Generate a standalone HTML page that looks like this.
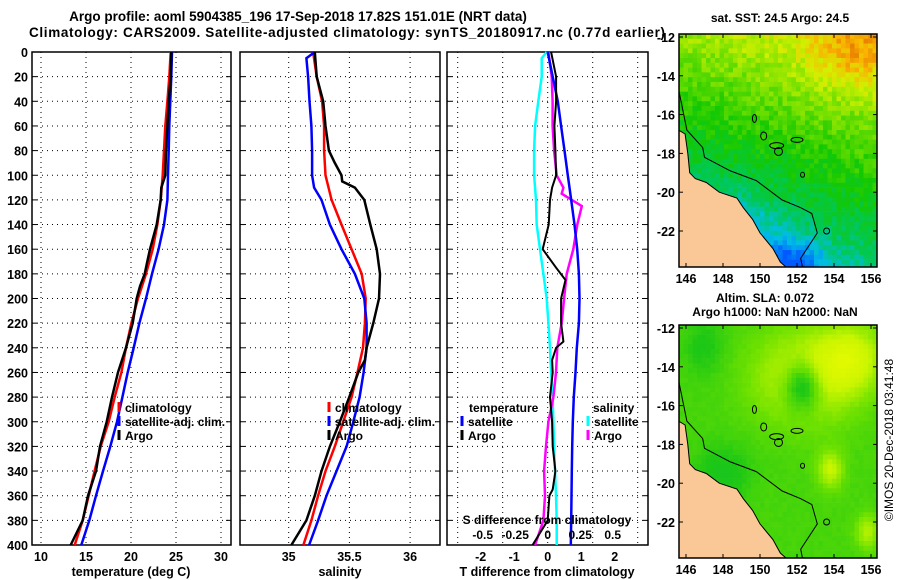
<!DOCTYPE html>
<html><head><meta charset="utf-8"><style>
html,body{margin:0;padding:0;background:#fff;}
svg{display:block;font-family:"Liberation Sans",Arial,sans-serif;font-weight:bold;}
</style></head><body>
<svg id="s" width="900" height="580" viewBox="0 0 900 580" xmlns="http://www.w3.org/2000/svg">
<text x="298" y="21" font-size="13.5" text-anchor="middle">Argo profile: aoml 5904385_196 17-Sep-2018 17.82S 151.01E (NRT data)</text>
<text x="347" y="37" font-size="13.5" text-anchor="middle" textLength="636">Climatology: CARS2009. Satellite-adjusted climatology: synTS_20180917.nc (0.77d earlier)</text>
<text x="780" y="22" font-size="12" text-anchor="middle">sat. SST: 24.5 Argo: 24.5</text>
<text x="765" y="302" font-size="12" text-anchor="middle">Altim. SLA: 0.072</text>
<text x="775" y="316" font-size="12" text-anchor="middle">Argo h1000: NaN h2000: NaN</text>
<text transform="translate(893,440) rotate(-90)" font-size="12" font-weight="normal" text-anchor="middle">©IMOS 20-Dec-2018 03:41:48</text>
</svg>
<script>
// ---- Data ----
const depthTicks=[0,20,40,60,80,100,120,140,160,180,200,220,240,260,280,300,320,340,360,380,400];
const D1=[0,20,40,60,80,100,120,140,160,180,200,220,240,260,280,300,320,340,360,380,400];
const tempSat=[24.56,24.48,24.37,24.26,24.19,24.11,24.04,23.67,23.07,22.33,21.67,20.93,20.30,19.63,19.04,18.44,17.70,16.89,16.11,15.37,14.48];
const tempClim=[24.41,24.26,24.04,23.81,23.67,23.52,23.30,22.93,22.41,21.67,20.78,20.04,19.44,18.93,18.19,17.52,16.63,15.96,15.30,14.63,13.74];
const tempArgoDepth=[0,20,40,60,80,100,110,120,140,160,170,180,190,200,220,240,260,280,300,320,340,360,380,400];
const tempArgo=[24.48,24.41,24.19,24.04,23.89,23.81,23.37,23.30,22.85,22.11,21.81,21.52,21.00,20.63,20.19,19.44,18.56,17.89,17.30,16.56,16.11,15.22,14.63,13.30];
const salSatDepth=[0,5,20,40,60,80,100,110,120,140,160,180,200,220,240,260,280,300,320,340,360,380,400];
const salSat=[35.215,35.146,35.160,35.171,35.187,35.193,35.193,35.209,35.270,35.339,35.435,35.545,35.623,35.642,35.642,35.617,35.584,35.532,35.477,35.394,35.311,35.242,35.168];
const salClim=[35.201,35.231,35.275,35.292,35.292,35.303,35.353,35.435,35.518,35.601,35.634,35.628,35.612,35.567,35.518,35.449,35.380,35.303,35.242,35.187,35.121];
const salArgoDepth=[0,20,40,60,80,90,100,105,110,120,140,160,180,200,220,240,250,260,280,300,320,340,360,380,400];
const salArgo=[35.215,35.231,35.284,35.303,35.331,35.380,35.435,35.441,35.545,35.623,35.672,35.725,35.752,35.744,35.697,35.642,35.628,35.573,35.499,35.421,35.339,35.270,35.215,35.146,35.022];
const dTSat=[0,0.15,0.30,0.40,0.50,0.60,0.70,0.80,0.88,0.93,0.95,0.93,0.87,0.83,0.78,0.75,0.73,0.72,0.71,0.70,0.69];
const dTArgoDepth=[0,20,40,60,80,100,110,120,140,160,175,185,200,220,235,240,250,260,280,300,320,340,355,360,380,400];
const dTArgo=[0.10,0.25,0.25,0.20,0.23,0.25,0.13,0.07,0.03,-0.15,0.25,0.53,0.40,0.40,0.47,0.25,0.13,0.15,0.07,0.13,0.15,0.23,0.15,0.05,0,-0.45];
const dSSatDepth=[0,5,20,40,60,80,100,120,140,160,180,200,220,240,260,280,300,320,340,360,380,400];
const dSSat=[-0.008,-0.046,-0.046,-0.072,-0.097,-0.105,-0.105,-0.090,-0.085,-0.059,-0.033,-0.008,0.005,0.018,0.026,0.038,0.044,0.049,0.056,0.064,0.069,0.069];
const dSArgoDepth=[0,20,40,60,80,100,110,115,120,125,140,160,180,200,220,240,260,280,300,320,340,360,380,400];
const dSArgo=[0.005,0.031,0.038,0.038,0.049,0.069,0.121,0.108,0.185,0.262,0.228,0.197,0.146,0.126,0.108,0.074,0.064,0.044,0.005,-0.013,-0.028,-0.021,-0.033,-0.097];
const tempTicks=[10,15,20,25,30];
const salTicks=[35,35.5,36];
const dTTicks=[-2,-1,0,1,2];
const dSTicks=[-0.5,-0.25,0,0.25,0.5];
const lonTicks=[146,148,150,152,154,156];
const latTicks=[-12,-14,-16,-18,-20,-22];

const NS="http://www.w3.org/2000/svg";
const svg=document.getElementById('s');
function mk(tag,attrs,parent){const e=document.createElementNS(NS,tag);for(const k in attrs)e.setAttribute(k,attrs[k]);(parent||svg).appendChild(e);return e;}
function txt(x,y,s,size,anchor,parent){const t=mk('text',{x:x,y:y,'font-size':size,'text-anchor':anchor||'middle'},parent);t.textContent=s;return t;}

const TOP=52,BOT=545;
const yD=d=>TOP+d*(BOT-TOP)/400;
const xT=v=>41+(v-10)*9;
const xS=v=>288.7+(v-35)*121.4;
const xdT=v=>547.7+v*33.5;
const xdS=v=>547.7+v*130;

function panel(name,x0,x1,gridXs){
  const g=mk('g',{});
  
  
  gridXs.forEach(x=>{const l=mk('line',{x1:x,x2:x,y1:TOP,y2:BOT,stroke:'#000','stroke-width':1,'stroke-dasharray':'1,4'},g);
    
    });
  depthTicks.forEach(d=>{if(d===0||d===400)return;const l=mk('line',{x1:x0,x2:x1,y1:yD(d),y2:yD(d),stroke:'#000','stroke-width':1,'stroke-dasharray':'1,4'},g);
    
    
    mk('line',{x1:x0,x2:x0+5,y1:yD(d),y2:yD(d),stroke:'#000'},g);mk('line',{x1:x1,x2:x1-5,y1:yD(d),y2:yD(d),stroke:'#000'},g);});
  const r=mk('rect',{x:x0,y:TOP,width:x1-x0,height:BOT-TOP,fill:'none',stroke:'#000','stroke-width':1.5},g);
  
  
  return g;
}
function line(g,name,xs,ds,fx,color,w){
  const pts=xs.map((v,i)=>fx(v).toFixed(1)+','+yD(ds[i]).toFixed(1)).join(' ');
  const p=mk('polyline',{points:pts,fill:'none',stroke:color,'stroke-width':w||2.5,'stroke-linejoin':'miter'},g);
  
  
}
function legend(g,x,y,color,label){
  mk('line',{x1:x,x2:x,y1:y-10,y2:y,stroke:color,'stroke-width':3},g);
  const t=txt(x+6,y,label,12,'start',g);
  
  
}

depthTicks.forEach(d=>{const t=txt(28,yD(d)+5,String(d),12.5,'end');
  
  });

const g1=panel('temperature-panel',32,231,tempTicks.map(xT));
line(g1,'temp-clim-line',tempClim,D1,xT,'#f00');
line(g1,'temp-sat-line',tempSat,D1,xT,'#00f');
line(g1,'temp-argo-line',tempArgo,tempArgoDepth,xT,'#000');
legend(g1,119,412,'#f00','climatology');
legend(g1,119,426,'#00f','satellite-adj. clim.');
legend(g1,119,440,'#000','Argo');
tempTicks.forEach(v=>{const t=txt(xT(v),561,String(v),12.5);});
{const t=txt(131,576,'temperature (deg C)',12.5);}

const g2=panel('salinity-panel',240,440,salTicks.map(xS));
line(g2,'sal-clim-line',salClim,D1,xS,'#f00');
line(g2,'sal-sat-line',salSat,salSatDepth,xS,'#00f');
line(g2,'sal-argo-line',salArgo,salArgoDepth,xS,'#000');
legend(g2,329,412,'#f00','climatology');
legend(g2,329,426,'#00f','satellite-adj. clim.');
legend(g2,329,440,'#000','Argo');
salTicks.forEach(v=>{const t=txt(xS(v),561,String(v),12.5);});
{const t=txt(340,576,'salinity',12.5);}

const g3=panel('difference-panel',447,648,[457.7,502.7,547.7,592.7,637.7]);
line(g3,'dS-sat-line',dSSat,dSSatDepth,xdS,'#0ff');
line(g3,'dS-argo-line',dSArgo,dSArgoDepth,xdS,'#f0f');
line(g3,'dT-sat-line',dTSat,D1,xdT,'#00f');
line(g3,'dT-argo-line',dTArgo,dTArgoDepth,xdT,'#000',2);
{const t=txt(469,412,'temperature',12,'start',g3);}
legend(g3,462,426,'#00f','satellite');
legend(g3,462,440,'#000','Argo');
{const t=txt(593,412,'salinity',12,'start',g3);}
legend(g3,588,426,'#0ff','satellite');
legend(g3,588,440,'#f0f','Argo');
{const t=txt(547,524,'S difference from climatology',12,'middle',g3);}
dSTicks.forEach(v=>{const t=txt(xdS(v),539,String(v),12,'middle',g3);});
dTTicks.forEach(v=>{const t=txt(xdT(v),561,String(v),12.5);});
{const t=txt(547,576,'T difference from climatology',12.5);}

// ---- Maps ----
function hash(i,j){let h=(i*374761393+j*668265263)|0;h=(h^(h>>>13))*1274126177|0;return ((h^(h>>>16))>>>0)/4294967295;}
function mix(a,b,t){return a.map((v,i)=>Math.round(v+(b[i]-v)*t));}
function ramp(stops,v){v=Math.max(0,Math.min(1,v));for(let i=0;i<stops.length-1;i++){if(v<=stops[i+1][0]){const t=(v-stops[i][0])/(stops[i+1][0]-stops[i][0]);return mix(stops[i][1],stops[i+1][1],t);}}return stops[stops.length-1][1];}
const sstStops=[[0,[0,90,255]],[0.2,[0,190,230]],[0.35,[0,200,90]],[0.5,[20,200,0]],[0.65,[120,225,0]],[0.78,[210,240,0]],[0.9,[250,180,0]],[1,[230,120,0]]];
const slaStops=[[0,[0,180,90]],[0.4,[30,200,20]],[0.6,[110,225,0]],[0.8,[200,245,0]],[1,[230,250,0]]];
const coast=[[145.6,-16.8],[145.95,-17.0],[146.1,-18.0],[146.2,-19.0],[146.5,-19.3],[147.1,-19.5],[147.8,-20.0],[148.75,-20.3],[149.1,-20.8],[149.6,-21.4],[150.0,-22.1],[150.7,-22.9],[151.1,-23.6],[151.46,-23.9]];
const shelf=[[145.6,-14.7],[146.05,-16.8],[146.9,-17.7],[147.0,-18.2],[148.4,-18.9],[149.8,-19.4],[151.2,-20.4],[152.2,-20.8],[152.8,-21.1],[153.1,-22.1],[152.2,-23.4],[152.3,-23.9]];
let mapId=0;
function drawMap(name,top,field,stops){
  const L=679,R=877,T=top,B=top+233;
  const lx=lon=>686+(lon-146)*18.5, ly=lat=>T+3+(-12-lat)*19.4;
  const cid='clip'+(mapId++);
  const cp=mk('clipPath',{id:cid});mk('rect',{x:L,y:T,width:R-L,height:B-T},cp);
  const g=mk('g',{'clip-path':'url(#'+cid+')'});
  
  
  const cw=4.5,ch=4.8;
  for(let j=0;j*ch<B-T;j++)for(let i=0;i*cw<R-L;i++){
    const x=L+i*cw,y=T+j*ch;const lon=146+(x+cw/2-686)/18.5,lat=-12-(y+ch/2-T-3)/19.4;
    const c=ramp(stops,field(lon,lat,i,j));
    mk('rect',{x:x.toFixed(1),y:y.toFixed(1),width:cw+0.3,height:ch+0.3,fill:'rgb('+c.join(',')+')'},g);
  }
  let d='M'+(L-2)+','+ly(-16.8).toFixed(1);coast.forEach(p=>d+=' L'+lx(p[0]).toFixed(1)+','+ly(p[1]).toFixed(1));d+=' L'+lx(151.46).toFixed(1)+','+(B+2)+' L'+(L-2)+','+(B+2)+' Z';
  const land=mk('path',{d:d,fill:'#f9c896',stroke:'#000','stroke-width':1},g);
  
  
  const sh=mk('polyline',{points:shelf.map(p=>lx(p[0]).toFixed(1)+','+ly(p[1]).toFixed(1)).join(' '),fill:'none',stroke:'#000','stroke-width':1},g);
  
  
  [[149.7,-16.2,2,4],[150.2,-17.1,3,4],[150.9,-17.6,7,3],[152.0,-17.3,6,2.5],[151.0,-17.9,4,4],[152.3,-19.1,2,2.5],[153.6,-22.0,3,3]].forEach(e=>mk('ellipse',{cx:lx(e[0]),cy:ly(e[1]),rx:e[2],ry:e[3],fill:'none',stroke:'#000','stroke-width':1},g));
  const fr=mk('rect',{x:L,y:T,width:R-L,height:B-T,fill:'none',stroke:'#000','stroke-width':1.5});
  
  
  lonTicks.forEach(v=>{mk('line',{x1:lx(v),x2:lx(v),y1:T,y2:T+4,stroke:'#000'});mk('line',{x1:lx(v),x2:lx(v),y1:B,y2:B-4,stroke:'#000'});
    const t=txt(lx(v),B+16,String(v),12.5,'middle');});
  latTicks.forEach(v=>{mk('line',{x1:L,x2:L+4,y1:ly(v),y2:ly(v),stroke:'#000'});mk('line',{x1:R,x2:R-4,y1:ly(v),y2:ly(v),stroke:'#000'});
    const t=txt(L-4,ly(v)+5,String(v),12.5,'end');});
}
drawMap('sst-map',34,(lon,lat,i,j)=>{
  let v=0.5+(18+lat)*0.045+(lon-151)*0.015;
  v+=0.13*Math.exp(-((lon-155)**2/5+(lat+13)**2/3));
  v-=0.3*Math.exp(-((lon-151.6)**2/3+(lat+23.8)**2/2));
  v-=0.12*Math.exp(-((lon-149)**2/3+(lat+21.5)**2/2));
  return v+(hash(i,j)-0.5)*0.12;
},sstStops);
drawMap('sla-map',325,(lon,lat,i,j)=>{
  let v=0.5;
  v+=0.35*Math.exp(-((lon-152.5)**2/8+(lat+14.5)**2/6));
  v-=0.45*Math.exp(-((lon-152.3)**2/1.0+(lat+15)**2/1.6));
  v+=0.3*Math.exp(-((lon-155)**2/3+(lat+13.5)**2/3));
  v+=0.3*Math.exp(-((lon-153.8)**2/0.5+(lat+19.3)**2/1.0));
  v+=0.25*Math.exp(-((lon-155.8)**2/0.4+(lat+22.5)**2/0.8));
  v-=0.15*Math.exp(-((lon-148)**2/2+(lat+19.5)**2/2));
  v-=0.12*Math.exp(-((lon-147)**2/1+(lat+13)**2/2));
  return v+(hash(i,j)-0.5)*0.03;
},slaStops);
</script>
</body></html>
